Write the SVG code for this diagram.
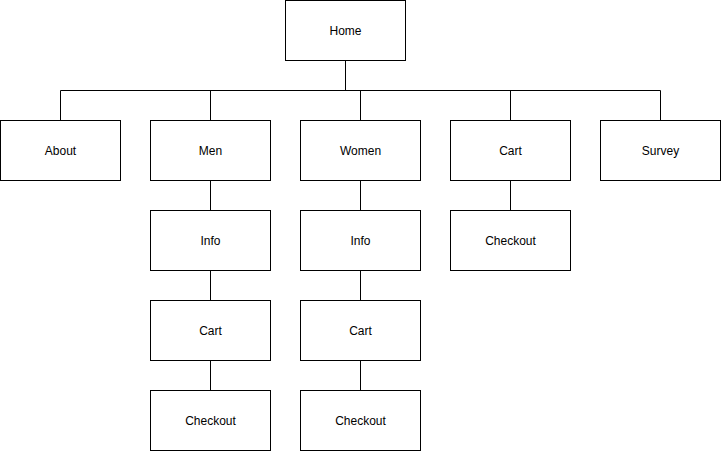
<svg xmlns="http://www.w3.org/2000/svg" width="721" height="451" viewBox="0 0 721 451">
<style>
.b{fill:#fff;stroke:#000;stroke-width:1}
.t{font-family:"Liberation Sans",Arial,sans-serif;font-size:12px;fill:#000;text-anchor:middle;dominant-baseline:central}
.c{fill:none;stroke:#000;stroke-width:1}
</style>
<rect width="721" height="451" fill="#fff"/>
<g id="connectors">
<path class="c" d="M345.5 60.5V90.5M60.5 90.5H660.5M60.5 90.5V120.5M210.5 90.5V120.5M360.5 90.5V120.5M510.5 90.5V120.5M660.5 90.5V120.5"/>
<path class="c" d="M210.5 180.5V210.5M210.5 270.5V300.5M210.5 360.5V390.5M360.5 180.5V210.5M360.5 270.5V300.5M360.5 360.5V390.5M510.5 180.5V210.5"/>
</g>
<g id="home"><rect class="b" x="285.5" y="0.5" width="120" height="60"/><text class="t" x="345.5" y="30.5">Home</text></g>
<g id="about"><rect class="b" x="0.5" y="120.5" width="120" height="60"/><text class="t" x="60.5" y="150.5">About</text></g>
<g id="men"><rect class="b" x="150.5" y="120.5" width="120" height="60"/><text class="t" x="210.5" y="150.5">Men</text></g>
<g id="women"><rect class="b" x="300.5" y="120.5" width="120" height="60"/><text class="t" x="360.5" y="150.5">Women</text></g>
<g id="cart"><rect class="b" x="450.5" y="120.5" width="120" height="60"/><text class="t" x="510.5" y="150.5">Cart</text></g>
<g id="survey"><rect class="b" x="600.5" y="120.5" width="120" height="60"/><text class="t" x="660.5" y="150.5">Survey</text></g>
<g id="men-info"><rect class="b" x="150.5" y="210.5" width="120" height="60"/><text class="t" x="210.5" y="240.5">Info</text></g>
<g id="men-cart"><rect class="b" x="150.5" y="300.5" width="120" height="60"/><text class="t" x="210.5" y="330.5">Cart</text></g>
<g id="men-checkout"><rect class="b" x="150.5" y="390.5" width="120" height="60"/><text class="t" x="210.5" y="420.5">Checkout</text></g>
<g id="women-info"><rect class="b" x="300.5" y="210.5" width="120" height="60"/><text class="t" x="360.5" y="240.5">Info</text></g>
<g id="women-cart"><rect class="b" x="300.5" y="300.5" width="120" height="60"/><text class="t" x="360.5" y="330.5">Cart</text></g>
<g id="women-checkout"><rect class="b" x="300.5" y="390.5" width="120" height="60"/><text class="t" x="360.5" y="420.5">Checkout</text></g>
<g id="cart-checkout"><rect class="b" x="450.5" y="210.5" width="120" height="60"/><text class="t" x="510.5" y="240.5">Checkout</text></g>
</svg>
